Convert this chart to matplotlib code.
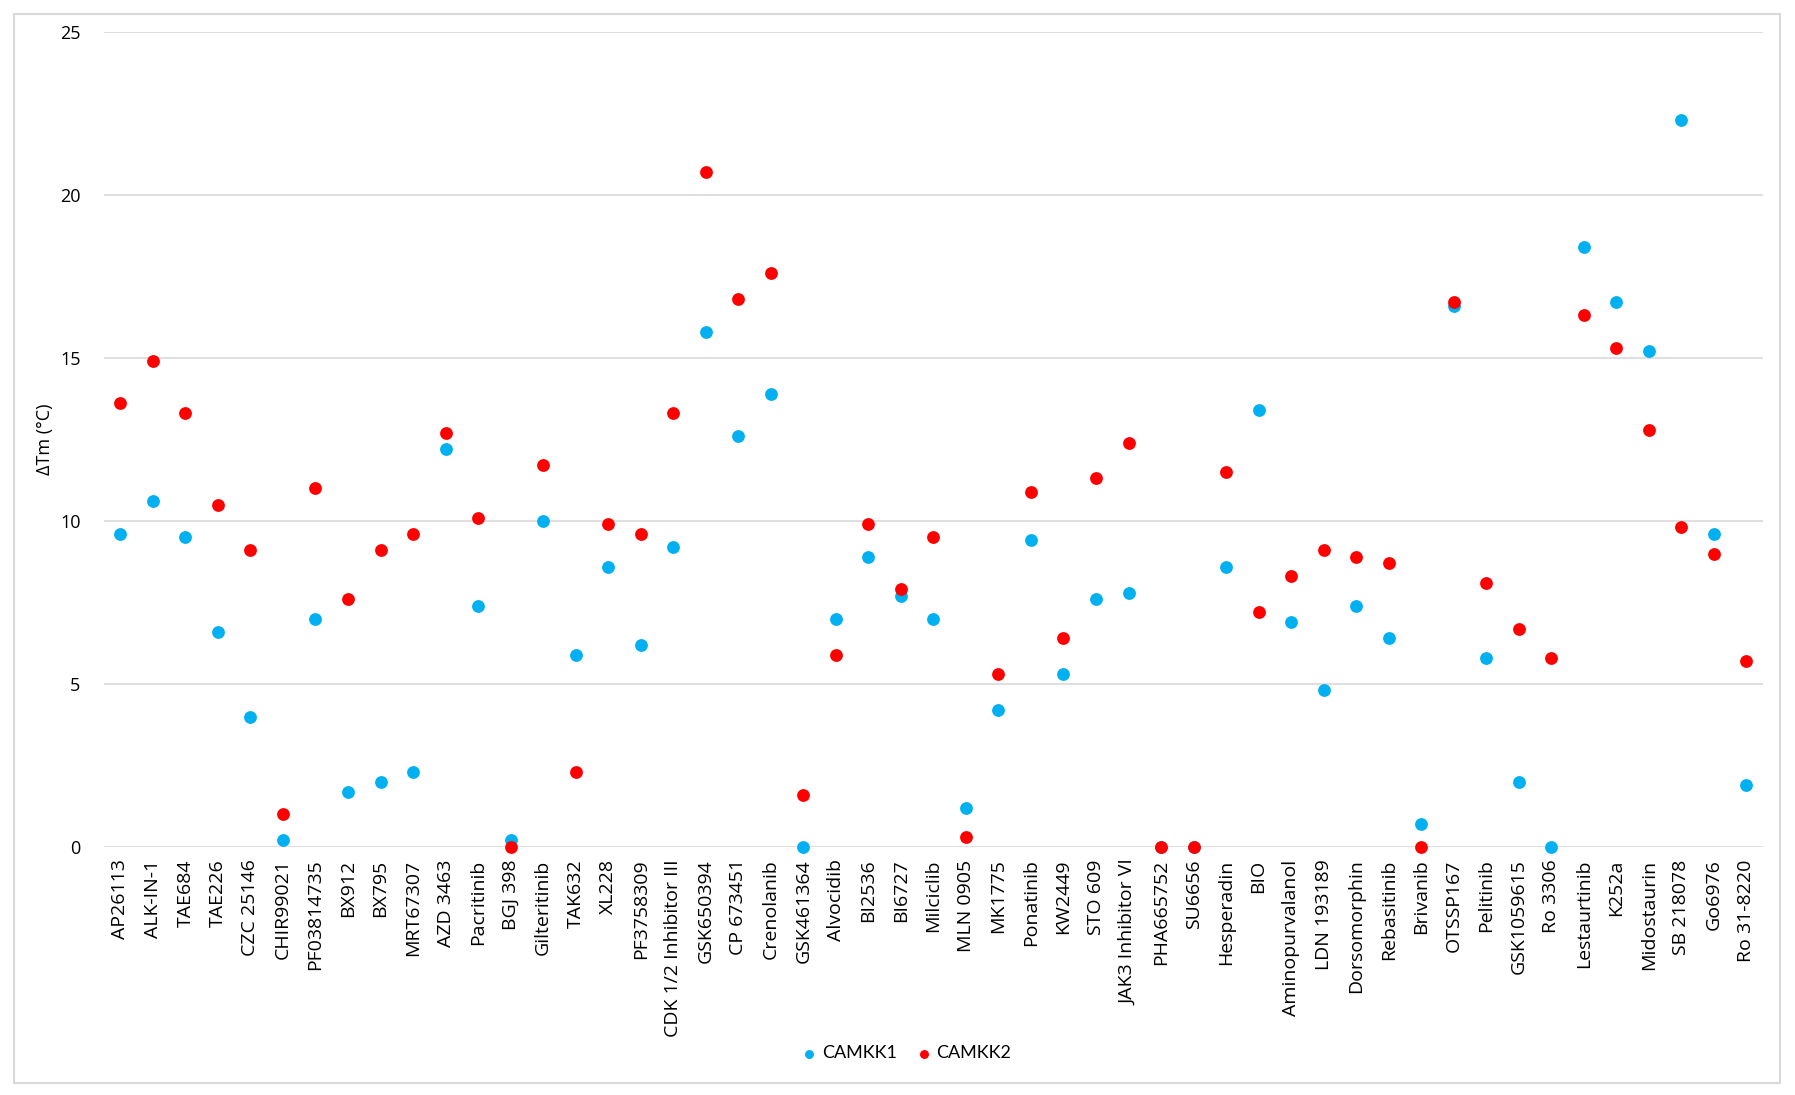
import numpy as np
import matplotlib.pyplot as plt
from matplotlib.patches import Rectangle

compounds = [
    "AP26113", "ALK-IN-1", "TAE684", "TAE226", "CZC 25146", "CHIR99021",
    "PF03814735", "BX912", "BX795", "MRT67307", "AZD 3463", "Pacritinib",
    "BGJ 398", "Gilteritinib", "TAK632", "XL228", "PF3758309",
    "CDK 1/2 Inhibitor III", "GSK650394", "CP 673451", "Crenolanib",
    "GSK461364", "Alvocidib", "BI2536", "BI6727", "Milciclib", "MLN 0905",
    "MK1775", "Ponatinib", "KW2449", "STO 609", "JAK3 Inhibitor VI",
    "PHA665752", "SU6656", "Hesperadin", "BIO", "Aminopurvalanol",
    "LDN 193189", "Dorsomorphin", "Rebasitinib", "Brivanib", "OTSSP167",
    "Pelitinib", "GSK1059615", "Ro 3306", "Lestaurtinib", "K252a",
    "Midostaurin", "SB 218078", "Go6976", "Ro 31-8220",
]

camkk1 = [
    9.6, 10.6, 9.5, 6.6, 4.0, 0.2, 7.0, 1.7, 2.0, 2.3, 12.2, 7.4,
    0.2, 10.0, 5.9, 8.6, 6.2, 9.2, 15.8, 12.6, 13.9, 0.0, 7.0, 8.9,
    7.7, 7.0, 1.2, 4.2, 9.4, 5.3, 7.6, 7.8, 0.0, 0.0, 8.6, 13.4,
    6.9, 4.8, 7.4, 6.4, 0.7, 16.6, 5.8, 2.0, 0.0, 18.4, 16.7, 15.2,
    22.3, 9.6, 1.9,
]

camkk2 = [
    13.6, 14.9, 13.3, 10.5, 9.1, 1.0, 11.0, 7.6, 9.1, 9.6, 12.7, 10.1,
    0.0, 11.7, 2.3, 9.9, 9.6, 13.3, 20.7, 16.8, 17.6, 1.6, 5.9, 9.9,
    7.9, 9.5, 0.3, 5.3, 10.9, 6.4, 11.3, 12.4, 0.0, 0.0, 11.5, 7.2,
    8.3, 9.1, 8.9, 8.7, 0.0, 16.7, 8.1, 6.7, 5.8, 16.3, 15.3, 12.8,
    9.8, 9.0, 5.7,
]

plt.rcParams['font.family'] = ['Open Sans', 'DejaVu Sans']

fig = plt.figure(figsize=(17.95, 10.95), dpi=100)
ax = fig.add_axes([0.058, 0.2265, 0.924, 0.7445])

x = np.arange(len(compounds))
ax.scatter(x, camkk1, s=85, color="#00B0F0", label="CAMKK1", zorder=3,
           linewidths=0, clip_on=False)
ax.scatter(x, camkk2, s=85, color="#FF0000", label="CAMKK2", zorder=4,
           linewidths=0, clip_on=False)

ax.set_xlim(-0.5, len(compounds) - 0.5)
ax.set_ylim(0, 25)
ax.set_yticks([0, 5, 10, 15, 20, 25])
ax.set_xticks(x)
ax.set_xticklabels(compounds, rotation=90, fontsize=14, color="#000000")
ax.tick_params(axis="y", length=0, pad=17, labelsize=13)
ax.tick_params(axis="x", length=0, pad=9)
ax.grid(axis="y", color="#D9D9D9", linewidth=1.2, zorder=0)
ax.set_axisbelow(True)
for sp in ax.spines.values():
    sp.set_visible(False)
ax.set_ylabel("ΔTm (°C)", fontsize=13, labelpad=4)

fig.legend(loc="center", bbox_to_anchor=(0.502, 0.038), ncol=2, frameon=False,
           prop={'family': ['Lato', 'DejaVu Sans'], 'size': 13},
           handletextpad=-0.3, columnspacing=0.5, markerscale=0.7)

# outer chart border
fig.patches.append(Rectangle((0.0078, 0.011), 0.984, 0.976, transform=fig.transFigure,
                             fill=False, edgecolor="#D9D9D9", linewidth=1.5))

fig.savefig("out.png", dpi=100)
